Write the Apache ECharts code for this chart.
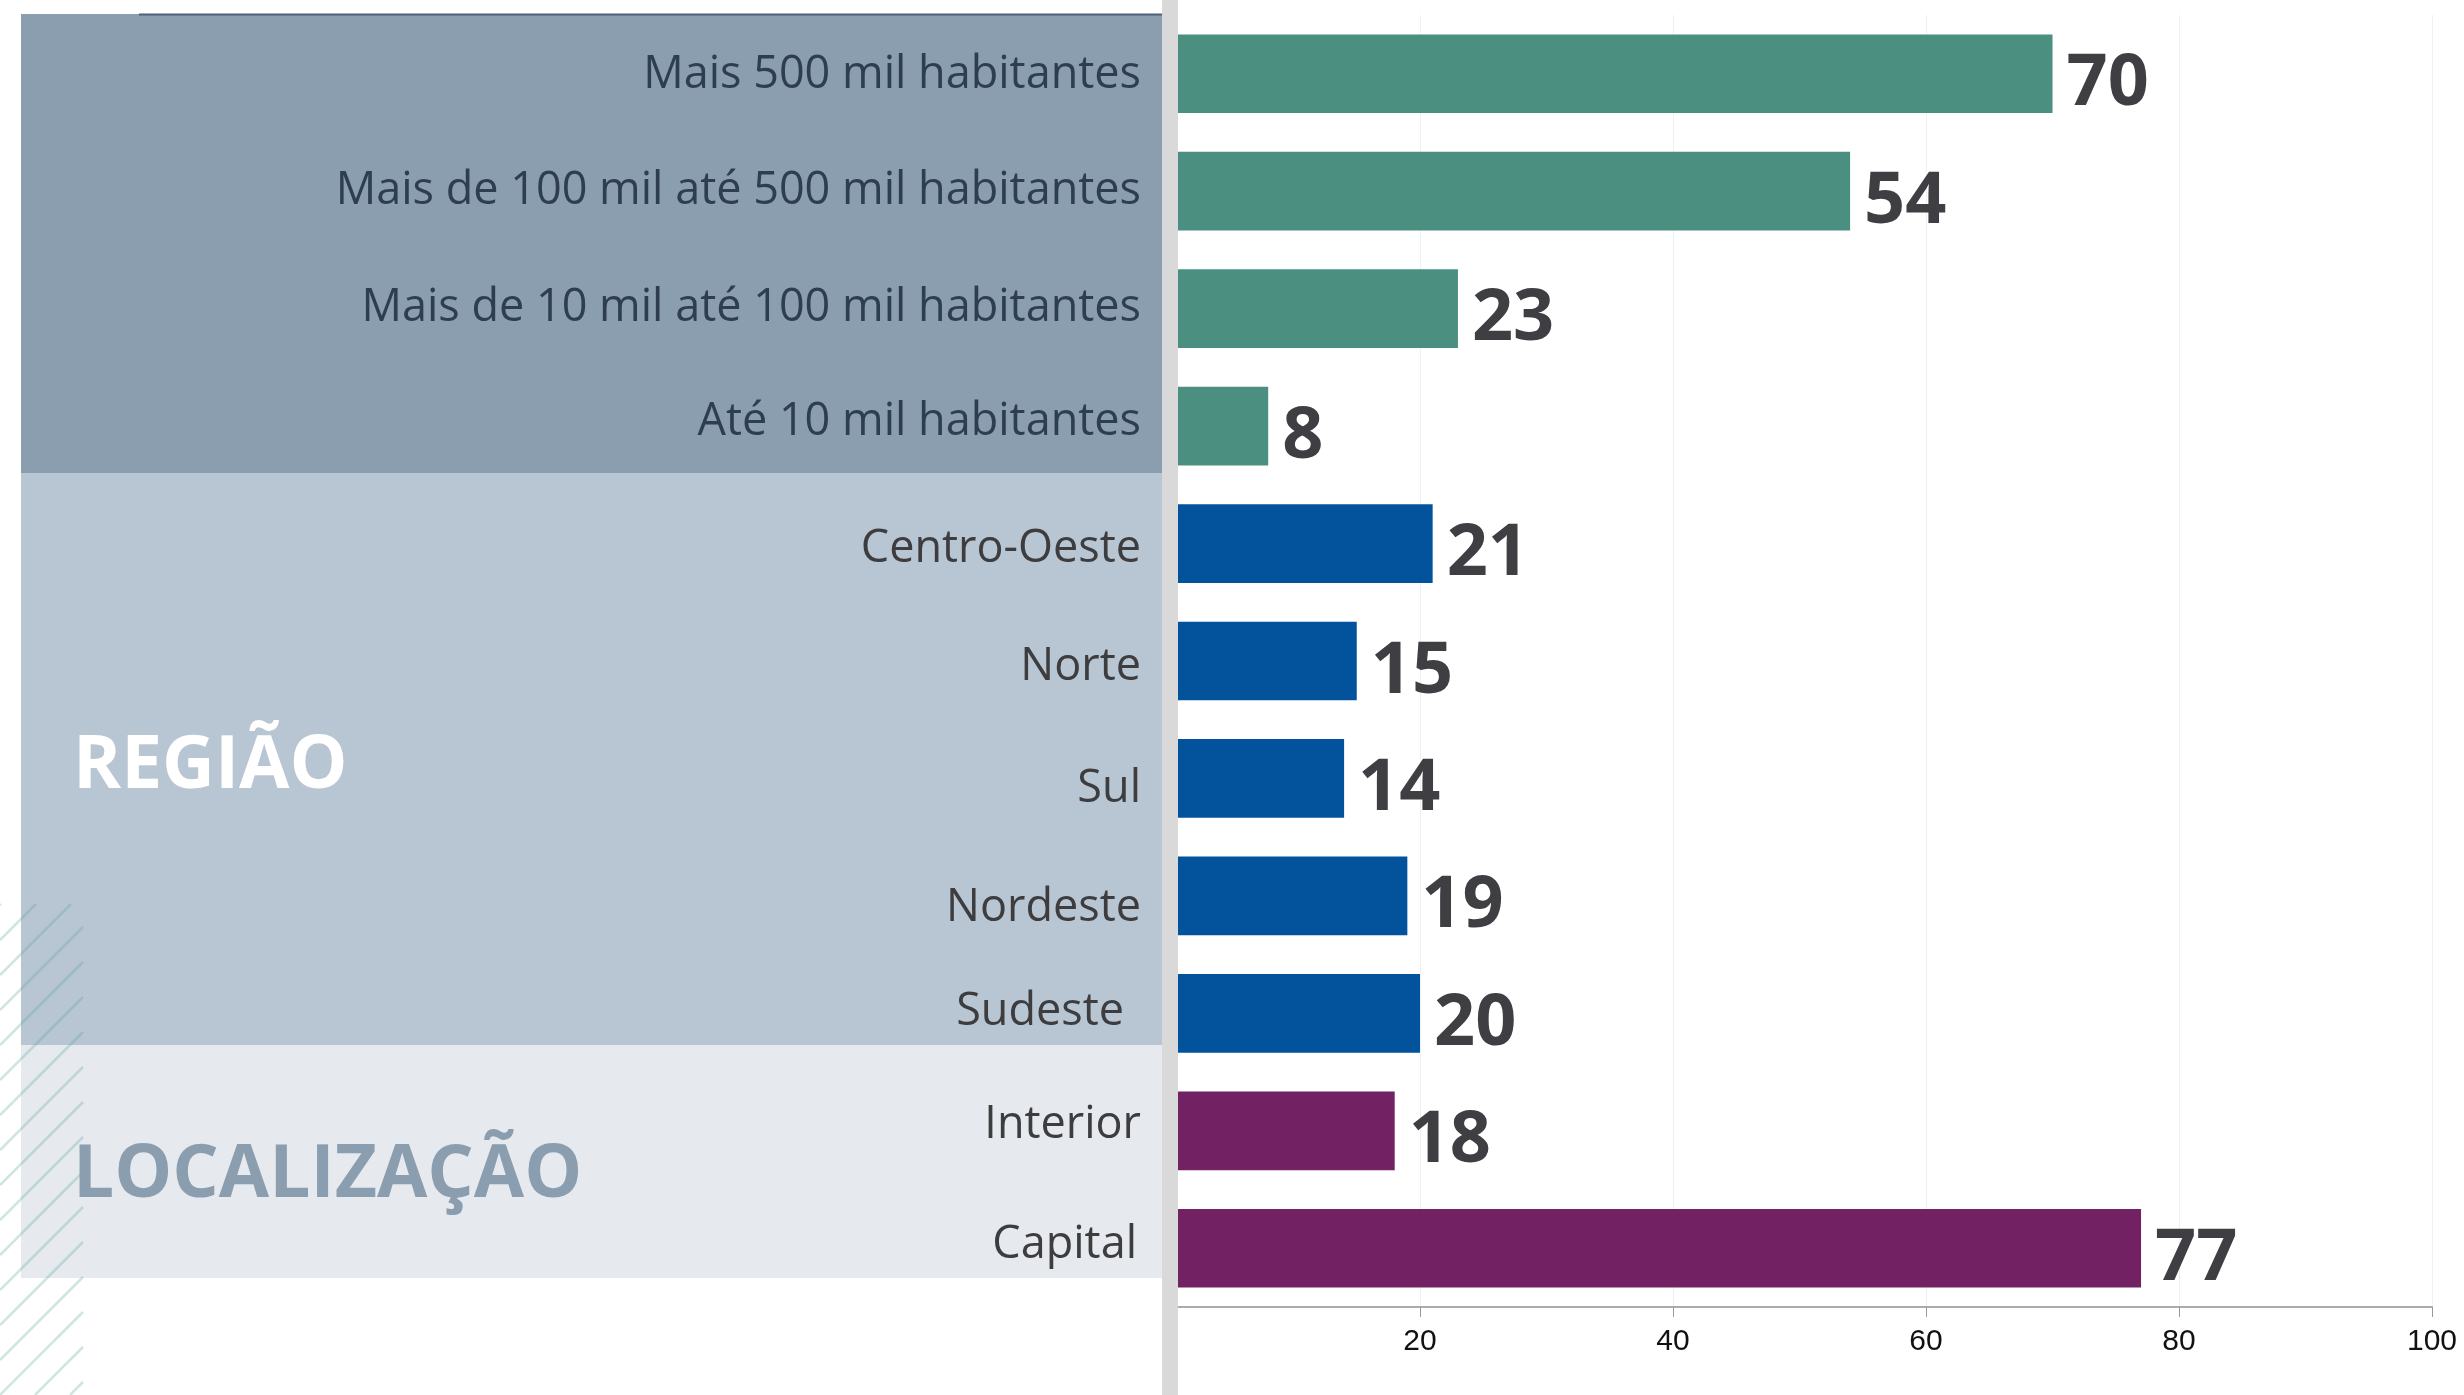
<!DOCTYPE html>
<html>
<head>
<meta charset="utf-8">
<script src="https://cdn.jsdelivr.net/npm/echarts@6/dist/echarts.min.js"></script>
<style>
    html, body { margin: 0; padding: 0; background: #fff; }
    #main { width: 2464px; height: 1395px; }
</style>
</head>
<body>
<div id="main"></div>
<script>
// dados
var categories = [
    'Mais 500 mil habitantes',
    'Mais de 100 mil até 500 mil habitantes',
    'Mais de 10 mil até 100 mil habitantes',
    'Até 10 mil habitantes',
    'Centro-Oeste',
    'Norte',
    'Sul',
    'Nordeste',
    'Sudeste',
    'Interior',
    'Capital'
]
var values = [70, 54, 23, 8, 21, 15, 14, 19, 20, 18, 77]
var groups = ['porte', 'porte', 'porte', 'porte', 'regiao', 'regiao', 'regiao', 'regiao', 'regiao', 'local', 'local']
var xTicks = [0, 20, 40, 60, 80, 100]
var sectionTitles = ['REGIÃO', 'LOCALIZAÇÃO']

var barColors = { porte: '#4a8f80', regiao: '#02529c', local: '#722262' }
var labelColors = { porte: '#2e3e4f', regiao: '#3d3d3f', local: '#3d3d3f' }
// pequenos desalinhamentos dos rótulos no original (dy, recuo à direita)
var labelNudge = [[1, 0], [0, 0], [0, 0], [-4, 0], [6, 0], [6, 0], [11, 0], [12, 0], [-1, 17], [-6, 0], [-3, 4]]

var chart = echarts.init(document.getElementById('main'))

var rich = {}
labelNudge.forEach(function (n, i) {
    var dy = n[0]
    rich['c' + i] = {
        fontFamily: '"Open Sans"',
        fontSize: 45,
        color: labelColors[groups[i]],
        padding: [dy > 0 ? 2 * dy : 0, n[1], dy < 0 ? -2 * dy : 0, 0]
    }
})

// hachura decorativa no canto inferior esquerdo
var hatch = []
for (var c = 1010 - 35 * 3; c <= 1395 + 83; c += 35) {
    var x1 = Math.max(0, c - 1395), x2 = Math.min(83, c - 904)
    if (x2 <= x1) continue
    hatch.push({
        type: 'line', z: -5, silent: true,
        shape: { x1: x1, y1: c - x1, x2: x2, y2: c - x2 },
        style: { stroke: 'rgba(95,170,155,0.3)', lineWidth: 2.5 }
    })
}

var graphics = [
    { type: 'rect', z: -10, shape: { x: 21, y: 14, width: 1141, height: 459 }, style: { fill: '#8b9eb0' } },
    { type: 'rect', z: -10, shape: { x: 21, y: 473, width: 1141, height: 572 }, style: { fill: '#b8c5d2' } },
    { type: 'rect', z: -10, shape: { x: 21, y: 1045, width: 1141, height: 233 }, style: { fill: '#e6eaee' } },
    { type: 'line', z: -9, shape: { x1: 139, y1: 14.5, x2: 1162, y2: 14.5 }, style: { stroke: '#4d6177', lineWidth: 2 } },
    { type: 'text', z: -4, left: 73, top: 731, style: { text: sectionTitles[0], fill: '#ffffff', font: 'bold 73px "Open Sans"' } },
    { type: 'text', z: -4, left: 73, top: 1140, style: { text: sectionTitles[1], fill: '#8b9eb0', font: 'bold 73px "Open Sans"' } },
    { type: 'rect', z: 100, shape: { x: 1162, y: 0, width: 16, height: 1395 }, style: { fill: '#d9d9d9' } }
].concat(hatch)

chart.setOption({
    animation: false,
    graphic: graphics,
    grid: { left: 1167, right: 32, top: 15, bottom: 88 },
    xAxis: {
        type: 'value',
        min: xTicks[0],
        max: xTicks[xTicks.length - 1],
        interval: xTicks[1] - xTicks[0],
        axisLine: { show: true, lineStyle: { color: '#aaaaaa', width: 2 } },
        axisTick: { show: true, length: 10, lineStyle: { color: '#999999' } },
        splitLine: { lineStyle: { color: '#eef0f3', width: 1 } },
        axisLabel: {
            showMinLabel: false,
            margin: 20,
            fontFamily: '"Liberation Sans", Arial',
            fontSize: 30,
            color: '#111111'
        }
    },
    yAxis: {
        type: 'category',
        inverse: true,
        data: categories,
        axisLine: { show: false },
        axisTick: { show: false },
        axisLabel: {
            margin: 26,
            fontFamily: '"Open Sans"',
            fontSize: 45,
            color: function (v, i) { return labelColors[groups[i]] },
            formatter: function (v, i) { return '{c' + i + '|' + v + '}' },
            rich: rich
        }
    },
    series: [{
        type: 'bar',
        barCategoryGap: '33%',
        data: values.map(function (v, i) {
            return { value: v, itemStyle: { color: barColors[groups[i]] } }
        }),
        label: {
            show: true,
            position: 'right',
            distance: 14,
            offset: [0, 11],
            fontFamily: '"Open Sans"',
            fontWeight: 'bold',
            fontSize: 72,
            color: '#3f3f43'
        }
    }]
})
</script>
</body>
</html>
